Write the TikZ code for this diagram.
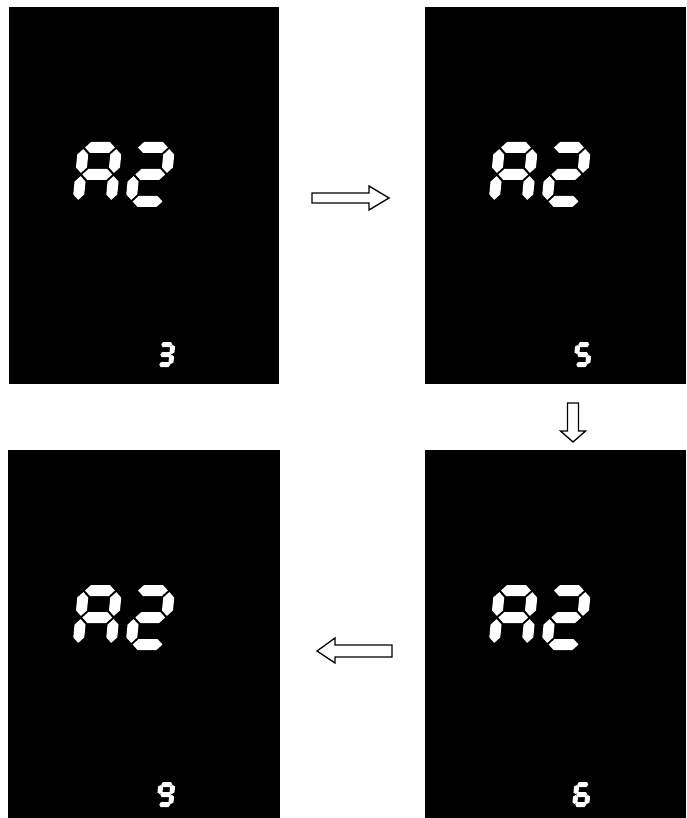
\documentclass[tikz,border=0pt]{standalone}
\usetikzlibrary{positioning}
\newcommand\hseg[3]{\fill[white] ({#1},{#3}) -- ({#1+\dtip},{#3+\dt/2}) -- ({#2-\dtip},{#3+\dt/2}) -- ({#2},{#3}) -- ({#2-\dtip},{#3-\dt/2}) -- ({#1+\dtip},{#3-\dt/2}) -- cycle;}
\newcommand\vseg[3]{\fill[white] ({#1},{#2}) -- ({#1+\dt/2},{#2+\dtip}) -- ({#1+\dt/2},{#3-\dtip}) -- ({#1},{#3}) -- ({#1-\dt/2},{#3-\dtip}) -- ({#1-\dt/2},{#2+\dtip}) -- cycle;}
\def\dsa{\hseg{\dt/2+\dg}{\dW-\dt/2-\dg}{\dH-\dt/2}}
\def\dsg{\hseg{\dt/2+\dg}{\dW-\dt/2-\dg}{\dH/2}}
\def\dsd{\hseg{\dt/2+\dg}{\dW-\dt/2-\dg}{\dt/2}}
\def\dsb{\vseg{\dW-\dt/2}{\dH/2+\dg}{\dH-\dt/2-\dg}}
\def\dsc{\vseg{\dW-\dt/2}{\dt/2+\dg}{\dH/2-\dg}}
\def\dse{\vseg{\dt/2}{\dt/2+\dg}{\dH/2-\dg}}
\def\dsf{\vseg{\dt/2}{\dH/2+\dg}{\dH-\dt/2-\dg}}
\newcommand\segdigit[8]{%
\begin{scope}[shift={(#1,#2)},x=1pt,y=1pt,xslant=0.1]
\def\dW{#3}\def\dH{#4}\def\dt{#5}\def\dg{#6}\def\dtip{#7}%
\foreach \s in {#8}{\csname ds\s\endcsname}
\end{scope}}
\newcommand\bigAtwo[2]{%
\segdigit{#1}{#2}{44}{65}{11}{1.6}{5.5}{a,b,c,e,f,g}
\segdigit{#1+53}{#2}{44}{65}{11}{1.6}{5.5}{a,b,g,e,d}}
\newcommand\smalldig[3]{\segdigit{#1}{#2}{17}{25}{5}{0.5}{1.6}{#3}}
\begin{document}
\begin{tikzpicture}[x=1pt,y=-1pt,
  panel/.style={fill=black,draw=none,inner sep=0pt,outer sep=0pt,anchor=north west},
  blockarrow/.style={draw=black,fill=white,line width=1.3pt,line join=miter}]
\useasboundingbox (0,0) rectangle (686,818);
\node[panel,minimum width=270pt,minimum height=377pt] (p1) at (9,7) {};
\node[panel,minimum width=261pt,minimum height=377pt] (p2) at (425,7) {};
\node[panel,minimum width=272pt,minimum height=368pt] (p3) at (8,450) {};
\node[panel,minimum width=261pt,minimum height=368pt] (p4) at (425,450) {};
% big digits
\bigAtwo{72}{207}
\bigAtwo{488}{207}
\bigAtwo{72}{650}
\bigAtwo{488}{650}
% small digits
\smalldig{156}{367}{a,b,c,d,g}
\smalldig{573}{367}{a,f,g,c,d}
\smalldig{156}{807}{a,b,c,d,f,g}
\smalldig{572}{807}{a,f,g,e,c,d}
% arrows
\coordinate (r1) at (312,198);
\coordinate (r2) at (389,198);
\draw[blockarrow] (312,193) -- (369,193) -- (369,186) -- (r2) -- (369,210) -- (369,203) -- (312,203) -- cycle;
\coordinate (d1) at (573,403);
\coordinate (d2) at (573,442);
\draw[blockarrow] (567.5,403) -- (578.5,403) -- (578.5,431) -- (585.5,431) -- (d2) -- (560.5,431) -- (567.5,431) -- cycle;
\coordinate (l1) at (392,651);
\coordinate (l2) at (317,651);
\draw[blockarrow] (392,645) -- (335,645) -- (335,638) -- (l2) -- (335,663) -- (335,657) -- (392,657) -- cycle;
\end{tikzpicture}
\end{document}
